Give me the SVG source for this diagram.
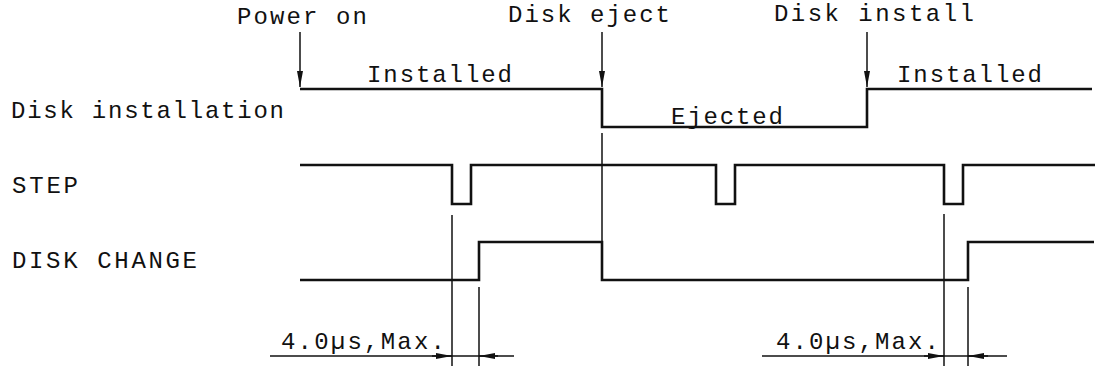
<svg xmlns="http://www.w3.org/2000/svg" width="1098" height="366" viewBox="0 0 1098 366">
<style>
.t{font-family:"Liberation Mono","Courier New",monospace;font-size:24px;fill:#111}
.sig{fill:none;stroke:#111;stroke-width:2.6;stroke-linejoin:miter}
.ref{fill:none;stroke:#111;stroke-width:1.5}
.arr{fill:none;stroke:#111;stroke-width:1.5;marker-end:url(#ah)}
</style>
<defs>
<marker id="ah" markerUnits="userSpaceOnUse" markerWidth="18" markerHeight="8" refX="16" refY="3" orient="auto">
<path d="M0,0 L16,3 L0,6 z" fill="#111"/>
</marker>
</defs>
<rect width="1098" height="366" fill="#fff"/>
<g id="labels">
<text class="t" x="11" y="118" textLength="273" lengthAdjust="spacing">Disk installation</text>
<text class="t" x="12" y="193" textLength="66" lengthAdjust="spacing">STEP</text>
<text class="t" x="12" y="268" textLength="185" lengthAdjust="spacing">DISK CHANGE</text>
</g>
<g id="events">
<text class="t" x="237" y="24" textLength="130" lengthAdjust="spacing">Power on</text>
<text class="t" x="508" y="22" textLength="162" lengthAdjust="spacing">Disk eject</text>
<text class="t" x="774" y="21" textLength="200" lengthAdjust="spacing">Disk install</text>
</g>
<g id="connectors">
<path class="arr" d="M300,32 L300,87"/>
<path class="arr" d="M602,32 L602,87"/>
<path class="arr" d="M867,32 L867,87"/>
<path class="ref" d="M602,133 L602,280"/>
<path class="ref" d="M452,215 L452,366"/>
<path class="ref" d="M479,287 L479,366"/>
<path class="ref" d="M944,214 L944,366"/>
<path class="ref" d="M968,287 L968,366"/>
</g>
<g id="disk-installation">
<path class="sig" d="M300,89 L602,89 L602,127 L867,127 L867,89 L1092,89"/>
<text class="t" x="367" y="82" textLength="145" lengthAdjust="spacing">Installed</text>
<text class="t" x="671" y="124" textLength="112" lengthAdjust="spacing">Ejected</text>
<text class="t" x="897" y="82" textLength="145" lengthAdjust="spacing">Installed</text>
</g>
<g id="step">
<path class="sig" d="M300,165 L452,165 L452,204 L471,204 L471,165 L716,165 L716,204 L735,204 L735,165 L944,165 L944,204 L963,204 L963,165 L1095,165"/>
</g>
<g id="disk-change">
<path class="sig" d="M300,280 L479,280 L479,242 L602,242 L602,280 L968,280 L968,242 L1094,242"/>
</g>
<g id="timing-1">
<path class="ref" d="M270,356 L514,356"/>
<path class="arr" d="M432,356 L452,356"/>
<path class="arr" d="M498,356 L479,356"/>
<text class="t" x="281" y="349" textLength="164" lengthAdjust="spacing">4.0µs,Max.</text>
</g>
<g id="timing-2">
<path class="ref" d="M762,356 L1007,356"/>
<path class="arr" d="M924,356 L944,356"/>
<path class="arr" d="M988,356 L968,356"/>
<text class="t" x="776" y="349" textLength="163" lengthAdjust="spacing">4.0µs,Max.</text>
</g>
</svg>
